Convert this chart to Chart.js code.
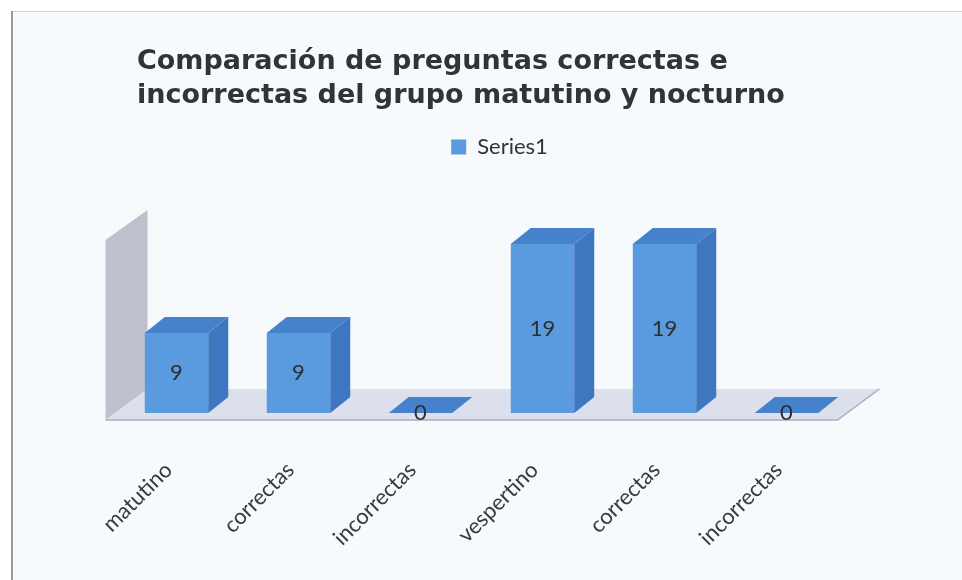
<!DOCTYPE html>
<html>
<head>
  <title>Comparación de preguntas</title>
  <script src="https://cdn.jsdelivr.net/npm/chart.js@4.4.1/dist/chart.umd.min.js"></script>
  <style>
    body { margin: 0; background: #ffffff; }
    #wrap { width: 962px; height: 580px; }
  </style>
</head>
<body>
  <div id="wrap">
    <canvas id="myChart" width="962" height="580"></canvas>
  </div>

  <script>
    // datos
    var categorias = ['matutino', 'correctas', 'incorrectas', 'vespertino', 'correctas', 'incorrectas'];
    var valores = [9, 9, 0, 19, 19, 0];
    var nombreSerie = 'Series1';
    var titulo = ['Comparación de preguntas correctas e', 'incorrectas del grupo matutino y nocturno'];

    var colorFrente = '#5a9be0';
    var colorArriba = '#4682cc';
    var colorLado = '#3f76c0';
    var prof = { dx: 20, dy: -16 };

    // marco y fondo
    var fondo = {
      id: 'fondo',
      beforeDraw: function(chart) {
        var c = chart.ctx;
        c.save();
        c.fillStyle = '#ffffff';
        c.fillRect(0, 0, chart.width, chart.height);
        c.fillStyle = '#f6fafd';
        c.fillRect(11, 11, chart.width - 11, chart.height - 11);
        c.strokeStyle = '#d0d0d0';
        c.lineWidth = 1;
        c.beginPath(); c.moveTo(11, 11.5); c.lineTo(chart.width, 11.5); c.stroke();
        c.strokeStyle = '#9a9a9a';
        c.lineWidth = 2;
        c.beginPath(); c.moveTo(12, 11); c.lineTo(12, chart.height); c.stroke();
        c.restore();
      }
    };

    // piso y pared del grafico 3D
    var piso = {
      id: 'piso',
      beforeDatasetsDraw: function(chart) {
        var c = chart.ctx;
        var a = chart.chartArea;
        var y0 = chart.scales.y.getPixelForValue(0);
        var yTop = chart.scales.y.getPixelForValue(20);
        var fl = a.left - 10, fr = a.right - 10, fy = y0 + 7;
        var bx = 42, by = -31;
        c.save();
        // pared izquierda
        c.fillStyle = '#bec1cb';
        c.beginPath();
        c.moveTo(fl, fy);
        c.lineTo(fl + bx, fy + by);
        c.lineTo(fl + bx, yTop - 25);
        c.lineTo(fl, yTop + 5);
        c.closePath();
        c.fill();
        // piso
        c.fillStyle = '#dcdfec';
        c.beginPath();
        c.moveTo(fl, fy);
        c.lineTo(fr, fy);
        c.lineTo(fr + bx, fy + by);
        c.lineTo(fl + bx, fy + by);
        c.closePath();
        c.fill();
        c.strokeStyle = '#a9adb9';
        c.lineWidth = 1.5;
        c.beginPath();
        c.moveTo(fl, fy); c.lineTo(fr, fy); c.lineTo(fr + bx, fy + by);
        c.stroke();
        c.restore();
      }
    };

    // caras superior y lateral de cada barra
    var barras3d = {
      id: 'barras3d',
      afterDatasetsDraw: function(chart) {
        var c = chart.ctx;
        var meta = chart.getDatasetMeta(0);
        c.save();
        meta.data.forEach(function(bar, i) {
          var l = bar.x - bar.width / 2, r = bar.x + bar.width / 2;
          var t = bar.y, b = bar.base;
          c.fillStyle = colorLado;
          c.beginPath();
          c.moveTo(r, t); c.lineTo(r + prof.dx, t + prof.dy);
          c.lineTo(r + prof.dx, b + prof.dy); c.lineTo(r, b);
          c.closePath(); c.fill();
          c.fillStyle = colorArriba;
          c.beginPath();
          c.moveTo(l, t); c.lineTo(r, t);
          c.lineTo(r + prof.dx, t + prof.dy); c.lineTo(l + prof.dx, t + prof.dy);
          c.closePath(); c.fill();
        });
        // etiquetas de datos
        c.fillStyle = '#2e2e2e';
        c.font = '22px Lato';
        c.textAlign = 'center';
        c.textBaseline = 'middle';
        meta.data.forEach(function(bar, i) {
          c.fillText(String(valores[i]), bar.x, (bar.y + bar.base) / 2);
        });
        c.restore();
      }
    };

    // mover el titulo y dejar espacio bajo la leyenda
    var ajustes = {
      id: 'ajustes',
      beforeInit: function(chart) {
        var fitOriginal = chart.legend.fit;
        chart.legend.fit = function() {
          fitOriginal.bind(chart.legend)();
          this.height = 109;
        };
      },
      afterLayout: function(chart) {
        chart.titleBlock.left = 137;
        chart.legend.left += 18;
        chart.legend.right += 18;
      }
    };

    var ctx = document.getElementById('myChart').getContext('2d');
    var chart = new Chart(ctx, {
      type: 'bar',
      data: {
        labels: categorias,
        datasets: [{
          label: nombreSerie,
          data: valores,
          backgroundColor: colorFrente,
          borderWidth: 0,
          barPercentage: 0.52,
          categoryPercentage: 1.0
        }]
      },
      options: {
        responsive: false,
        animation: false,
        layout: { padding: { left: 115.5, right: 114.5, top: 0, bottom: 0 } },
        plugins: {
          title: {
            display: true,
            text: titulo,
            align: 'start',
            color: '#333333',
            font: { family: 'DejaVu Sans', size: 27, weight: 'bold', lineHeight: 1.26 },
            padding: { top: 45, bottom: 13 }
          },
          legend: {
            display: true,
            labels: {
              color: '#333333',
              boxWidth: 15,
              boxHeight: 15,
              font: { family: 'Lato', size: 22 }
            }
          },
          tooltip: { enabled: false }
        },
        scales: {
          x: {
            grid: { display: false },
            border: { display: false },
            ticks: {
              color: '#3a3a3a',
              font: { family: 'Lato', size: 22 },
              minRotation: 45,
              maxRotation: 45,
              labelOffset: -8,
              padding: 36
            },
            afterFit: function(scale) { scale.height = 167; }
          },
          y: {
            display: false,
            min: 0,
            max: 20
          }
        }
      },
      plugins: [fondo, piso, barras3d, ajustes]
    });
  </script>
</body>
</html>
